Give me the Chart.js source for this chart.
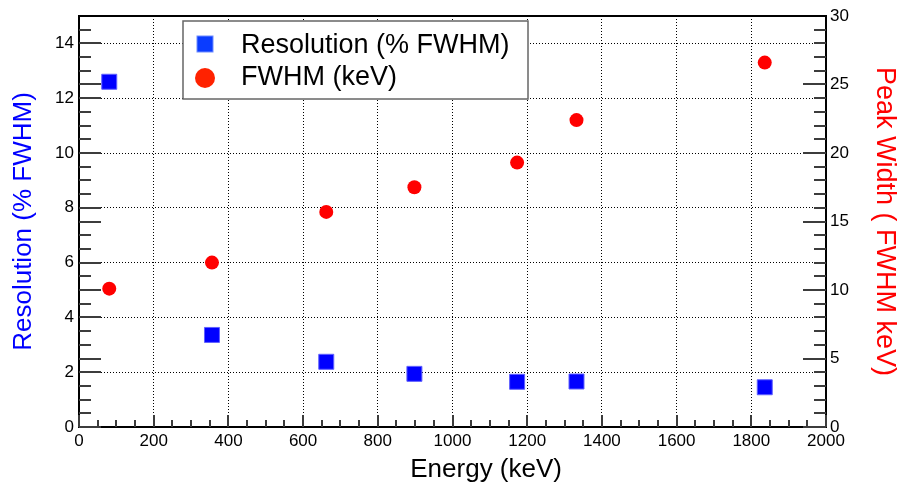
<!DOCTYPE html>
<html><head><meta charset="utf-8">
<script src="https://cdn.jsdelivr.net/npm/chart.js@4.4.1/dist/chart.umd.min.js"></script>
<style>html,body{margin:0;padding:0;background:#fff;}canvas{display:block;}</style>
</head><body>
<canvas id="c" width="901" height="485"></canvas>
<script>
// ---- data ----
const energies = [81, 356, 662, 898, 1173, 1332, 1836];
const resolutionPct = [12.6, 3.36, 2.38, 1.94, 1.65, 1.66, 1.45];
const fwhmKeV = [10.1, 12.0, 15.7, 17.5, 19.3, 22.4, 26.6];
const xTicks = [0, 200, 400, 600, 800, 1000, 1200, 1400, 1600, 1800, 2000];
const yLeftTicks = [0, 2, 4, 6, 8, 10, 12, 14];
const yRightTicks = [0, 5, 10, 15, 20, 25, 30];
const seriesLabels = ['Resolution (% FWHM)', 'FWHM (keV)'];
const xTitle = 'Energy (keV)';
const yTitle = 'Resolution (% FWHM)';
const y2Title = 'Peak Width ( FWHM keV)';

const FAM = '"Liberation Sans", Arial, Helvetica, sans-serif';
const TICK = 'rgb(60,60,60)';

const decor = {
  id: 'decor',
  afterDraw(chart) {
    const ctx = chart.ctx;
    const a = chart.chartArea;
    const sx = chart.scales.x, sy = chart.scales.y, sy2 = chart.scales.y2;
    const L0 = Math.round(a.left), R0 = Math.round(a.right), B0 = Math.round(a.bottom), T0 = Math.round(a.top);
    ctx.save();
    ctx.setLineDash([]);
    ctx.fillStyle = TICK;
    // x ticks: inside, every 50 keV
    for (let i = 0; i <= 40; i++) {
      const px = Math.round(sx.getPixelForValue(i * 50));
      const L = (i % 4 === 0) ? 12 : 7;
      ctx.fillRect(px - 1, B0 - L, 2, L);
    }
    // left ticks: inside, every 0.5
    for (let i = 0; i <= 30; i++) {
      const py = Math.round(sy.getPixelForValue(i * 0.5));
      const L = (i % 4 === 0) ? 22 : 12;
      ctx.fillRect(L0, py - 1, L, 2);
    }
    // right ticks: inside, every 1
    for (let i = 0; i <= 30; i++) {
      const py = Math.round(sy2.getPixelForValue(i));
      const L = (i % 5 === 0) ? 23 : 12;
      ctx.fillRect(R0 - L, py - 1, L, 2);
    }
    // secondary ticks on left at right-axis majors
    yRightTicks.forEach(v => {
      const py = Math.round(sy2.getPixelForValue(v));
      ctx.fillRect(L0, py - 1, 22, 2);
    });
    // top frame
    ctx.fillStyle = '#000';
    ctx.fillRect(L0 - 1, T0 - 1, R0 - L0 + 2, 2);

    // x title
    ctx.fillStyle = '#000';
    ctx.font = '26px ' + FAM;
    ctx.textAlign = 'center';
    ctx.textBaseline = 'middle';
    ctx.fillText(xTitle, a.left + 0.545 * (a.right - a.left), 470);

    // legend box
    const lx = a.left + 104, ly = a.top + 5, lw = 345, lh = 78;
    ctx.fillStyle = '#fff';
    ctx.fillRect(lx, ly, lw, lh);
    ctx.strokeStyle = '#666';
    ctx.lineWidth = 1.5;
    ctx.strokeRect(lx, ly, lw, lh);
    const ds = chart.data.datasets;
    ctx.fillStyle = '#0a3cff';
    ctx.fillRect(lx + 14, ly + 15, 16, 16);
    ctx.strokeStyle = '#6f8cff';
    ctx.lineWidth = 1;
    ctx.strokeRect(lx + 14, ly + 15, 16, 16);
    ctx.fillStyle = '#ff2200';
    ctx.beginPath(); ctx.arc(lx + 22, ly + 57, 10, 0, Math.PI * 2); ctx.fill();
    ctx.fillStyle = '#000';
    ctx.font = '27px ' + FAM;
    ctx.textBaseline = 'middle';
    ctx.textAlign = 'left';
    ctx.fillText(ds[0].label, lx + 58, ly + 25);
    ctx.fillText(ds[1].label, lx + 58, ly + 57);
    ctx.restore();
  }
};

new Chart(document.getElementById('c'), {
  type: 'scatter',
  data: {
    datasets: [
      {
        label: seriesLabels[0],
        data: energies.map((e, i) => ({ x: e, y: resolutionPct[i] })),
        yAxisID: 'y',
        pointStyle: 'rect',
        pointRadius: 10.6,
        pointBackgroundColor: '#0000ff',
        pointBorderColor: '#6060ff',
        pointBorderWidth: 1
      },
      {
        label: seriesLabels[1],
        data: energies.map((e, i) => ({ x: e, y: fwhmKeV[i] })),
        yAxisID: 'y2',
        pointStyle: 'circle',
        pointRadius: 7,
        pointBackgroundColor: '#ff0000',
        pointBorderColor: '#ff0000',
        pointBorderWidth: 0
      }
    ]
  },
  options: {
    responsive: false,
    animation: false,
    devicePixelRatio: 1,
    layout: { padding: { top: 16, left: 0, right: 0, bottom: 0 } },
    plugins: { legend: { display: false }, tooltip: { enabled: false } },
    scales: {
      x: {
        type: 'linear', min: 0, max: 2000,
        afterBuildTicks: s => { s.ticks = xTicks.map(v => ({ value: v })); },
        afterFit: s => { s.height = 58; },
        grid: {
          drawTicks: false, lineWidth: 1,
          color: c => (c.tick && (c.tick.value === 0 || c.tick.value === 2000)) ? 'rgba(0,0,0,0)' : '#000'
        },
        border: { display: true, color: '#000', width: 2, dash: [1, 2] },
        ticks: { font: { family: FAM, size: 17 }, color: '#000', padding: 4, maxRotation: 0, autoSkip: false, callback: v => String(v) },
        title: { display: false }
      },
      y: {
        type: 'linear', position: 'left', min: 0, max: 15,
        afterBuildTicks: s => { s.ticks = yLeftTicks.map(v => ({ value: v })); },
        afterFit: s => { s.width = 79; },
        grid: {
          drawTicks: false, lineWidth: 1,
          color: c => (c.tick && c.tick.value === 0) ? 'rgba(0,0,0,0)' : '#000'
        },
        border: { display: true, color: '#000', width: 2, dash: [1, 2] },
        ticks: { font: { family: FAM, size: 17 }, color: '#000', padding: 5, callback: v => String(v) },
        title: { display: true, text: yTitle, color: '#0000ff', font: { family: FAM, size: 26, lineHeight: 1.2 }, padding: { top: 8, bottom: 0 } }
      },
      y2: {
        type: 'linear', position: 'right', min: 0, max: 30,
        afterBuildTicks: s => { s.ticks = yRightTicks.map(v => ({ value: v })); },
        afterFit: s => { s.width = 75; },
        grid: { drawOnChartArea: false, drawTicks: false },
        border: { display: true, color: '#000', width: 2 },
        ticks: { font: { family: FAM, size: 17 }, color: '#000', padding: 4, callback: v => String(v) },
        title: { display: true, text: y2Title, color: '#ff0000', font: { family: FAM, size: 27, lineHeight: 1.2 }, padding: { top: 0, bottom: 0 } }
      }
    }
  },
  plugins: [decor]
});
</script>
</body></html>
